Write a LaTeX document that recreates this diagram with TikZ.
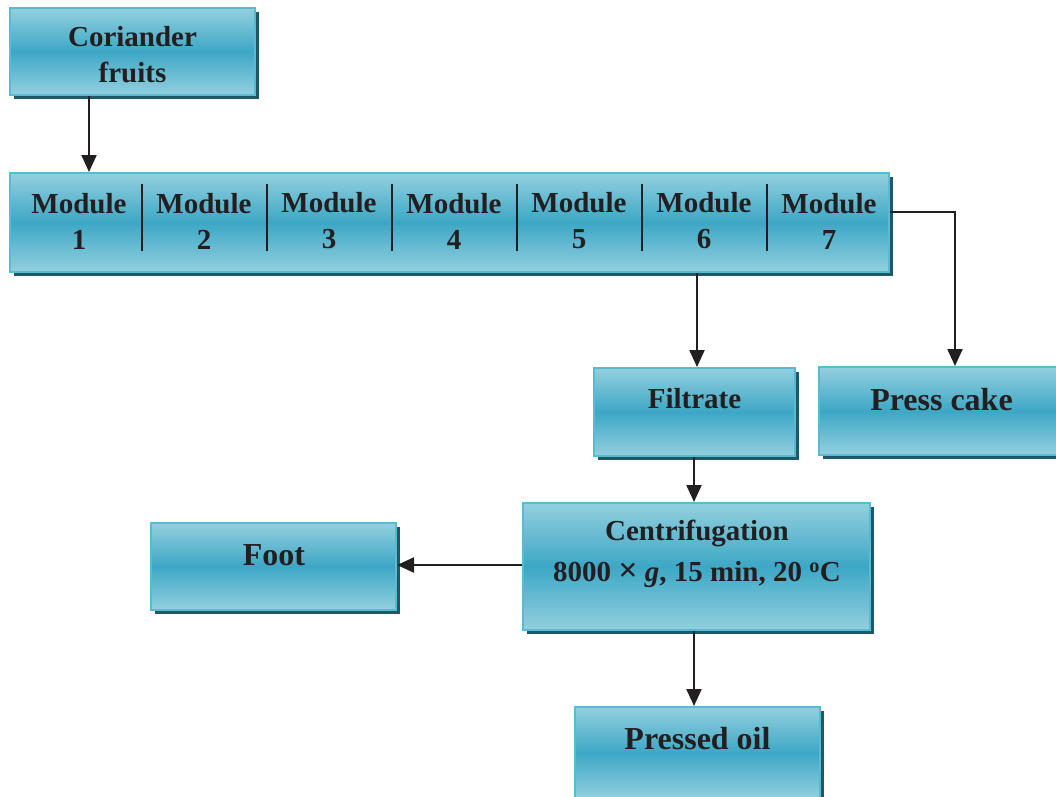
\documentclass[tikz,border=0pt]{standalone}
\usepackage{fontspec}
\setmainfont{Liberation Serif}
\usetikzlibrary{arrows.meta,shadows}
\definecolor{boxlight}{HTML}{93D0DF}
\definecolor{boxmid}{HTML}{3DA7C5}
\definecolor{boxedge}{HTML}{58BAD3}
\definecolor{boxshadow}{HTML}{1E5968}
\definecolor{ink}{HTML}{231F20}
\tikzset{
  box/.style={rectangle, draw=boxedge, line width=2pt, top color=boxlight, bottom color=boxlight, middle color=boxmid, inner sep=0pt,
    drop shadow={shadow xshift=4pt, shadow yshift=-4pt, fill=boxshadow, opacity=1}},
  lbl/.style={text=ink, font=\bfseries\fontsize{29}{36}\selectfont, align=center, inner sep=0pt},
  biglbl/.style={text=ink, font=\bfseries\fontsize{32}{38}\selectfont, align=center, inner sep=0pt},
  conn/.style={draw=ink, line width=2.2pt},
  arr/.style={conn, -{Triangle[length=17pt,width=15pt]}},
  divider/.style={draw=ink, line width=2.2pt}
}
\begin{document}
\begin{tikzpicture}[x=1pt,y=-1pt]
\useasboundingbox (0,0) rectangle (1056,796);
\begin{scope}
\clip (0,0) rectangle (1056,796);
% boxes
\node[box, minimum width=245pt, minimum height=87pt] (cor) at (132.5,51.5) {};
\node[box, minimum width=879pt, minimum height=99pt] (mod) at (449.5,222.5) {};
\node[box, minimum width=201pt, minimum height=88pt] (fil) at (694.5,412) {};
\node[box, minimum width=245pt, minimum height=88pt] (cake) at (941.5,411) {};
\node[box, minimum width=347pt, minimum height=127pt] (cen) at (696.5,566.5) {};
\node[box, minimum width=245pt, minimum height=87pt] (foot) at (273.5,566.5) {};
\node[box, minimum width=245pt, minimum height=92pt] (oil) at (697.5,753) {};
\end{scope}
% texts
\node[lbl] (tcor) at (132.5,55) {Coriander\\fruits};
\foreach \i/\x in {1/79,2/204,3/329,4/454,5/579,6/704,7/829}{
  \node[lbl] (tm\i) at (\x,221) {Module\\\i};
}
\foreach \j/\x in {1/142,2/267,3/392,4/517,5/642,6/767}{
  \coordinate (dt\j) at (\x,184);
  \coordinate (db\j) at (\x,251);
  \draw[divider] (dt\j) -- (db\j);
}
\node[lbl] (tfil) at (694.5,399) {Filtrate};
\node[biglbl] (tcake) at (941.5,400) {Press cake};
\node[lbl] (tcen) at (697,554) {Centrifugation\\[5pt]8000 {\fontsize{34}{36}\selectfont×} \textit{g}, 15 min, 20 \textsuperscript{o}C};
\node[biglbl] (tfoot) at (274,555) {Foot};
\node[biglbl] (toil) at (697.5,739) {Pressed oil};
% connectors
\draw[arr] (cor.south -| 89,0) -- (mod.north -| 89,0);
\coordinate (m7) at (mod.east |- 0,212);
\coordinate (bend) at (955,212);
\draw[conn] (m7) -- (bend);
\draw[arr] (955,210.9) -- (cake.north -| bend);
\draw[arr] (mod.south -| 697,0) -- (fil.north -| 697,0);
\draw[arr] (fil.south -| 694,0) -- (cen.north -| 694,0);
\draw[arr] (cen.west |- 0,565) -- (foot.east |- 0,565);
\draw[arr] (cen.south -| 694,0) -- (oil.north -| 694,0);
\end{tikzpicture}
\end{document}
